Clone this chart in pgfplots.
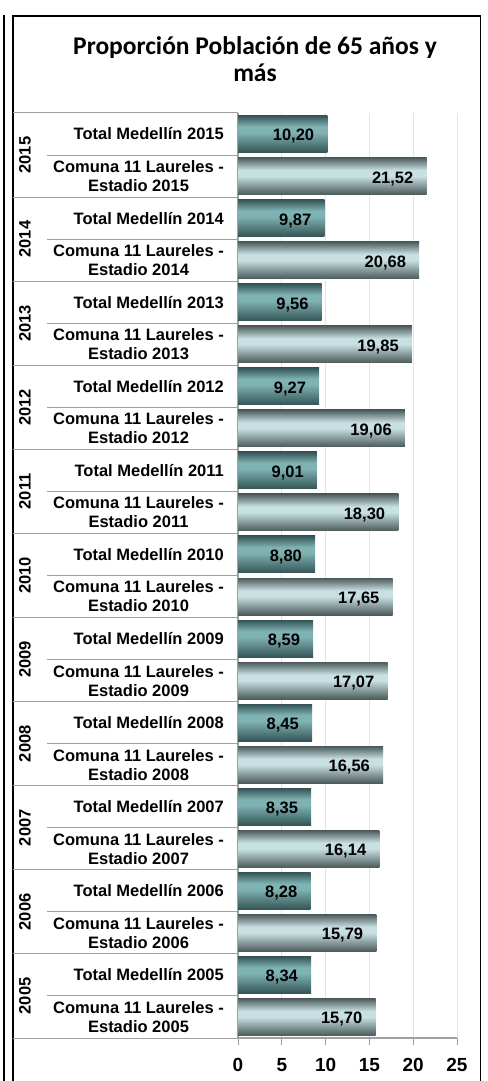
\documentclass[border=0pt]{standalone}
\usepackage{pgfplots}
\usepackage{pgfplotstable}
\pgfplotsset{compat=1.18}
\usepackage{fontspec}
\setmainfont{Liberation Sans}
\newfontfamily\titlefont{Carlito}

\definecolor{totd}{RGB}{52,84,86}
\definecolor{totl}{RGB}{127,178,178}
\definecolor{comd}{RGB}{76,90,90}
\definecolor{coml}{RGB}{200,224,226}
\definecolor{sepc}{RGB}{160,160,160}
\definecolor{gridc}{RGB}{221,230,234}

% bar shadings, path box maps to 25bp..75bp
\pgfdeclareverticalshading{totshade}{100bp}{color(0bp)=(totd); color(25bp)=(totd); color(52bp)=(totl); color(60bp)=(totl); color(75bp)=(totd); color(100bp)=(totd)}
\pgfdeclareverticalshading{comshade}{100bp}{color(0bp)=(comd); color(25bp)=(comd); color(50bp)=(coml); color(58bp)=(coml); color(75bp)=(comd); color(100bp)=(comd)}

\pgfplotstableread{
year tot com
2005 8.34 15.70
2006 8.28 15.79
2007 8.35 16.14
2008 8.45 16.56
2009 8.59 17.07
2010 8.80 17.65
2011 9.01 18.30
2012 9.27 19.06
2013 9.56 19.85
2014 9.87 20.68
2015 10.20 21.52
}\datos

\begin{document}
\begin{tikzpicture}[x=1pt,y=1pt]
% marco
\draw[line width=1.5pt] (4,-5) -- (4,1066);
\draw[line width=1.5pt] (13,-5) |- (480.5,1065) -- (480.5,-5);
% titulo
\node[font=\titlefont\bfseries\fontsize{25.5}{28}\selectfont, anchor=base] at (255,1026) {Proporción Población de 65 años y};
\node[font=\titlefont\bfseries\fontsize{25.5}{28}\selectfont, anchor=base] at (255,999) {más};

\begin{axis}[
    at={(238pt,43pt)}, anchor=south west,
    scale only axis, width=219pt, height=925pt,
    xbar, bar width=0.88, bar shift=0pt,
    xmin=0, xmax=25, ymin=-0.5, ymax=21.5,
    axis x line*=bottom, axis y line*=left,
    axis line style={-, draw=sepc, line width=1.2pt},
    xtick={0,5,...,25},
    xmajorgrids, grid style={gridc, line width=0.8pt},
    tick align=outside, major tick length=7pt,
    xtick style={draw=sepc, line width=1pt},
    ytick style={draw=none},
    /pgf/number format/assume math mode=true,
    xticklabel style={font=\bfseries\fontsize{19}{19}\selectfont, inner sep=0pt, yshift=-13pt},
    ytick={0,...,21},
    yticklabels={
      {Comuna 11 Laureles -\\Estadio 2005}, Total Medellín 2005,
      {Comuna 11 Laureles -\\Estadio 2006}, Total Medellín 2006,
      {Comuna 11 Laureles -\\Estadio 2007}, Total Medellín 2007,
      {Comuna 11 Laureles -\\Estadio 2008}, Total Medellín 2008,
      {Comuna 11 Laureles -\\Estadio 2009}, Total Medellín 2009,
      {Comuna 11 Laureles -\\Estadio 2010}, Total Medellín 2010,
      {Comuna 11 Laureles -\\Estadio 2011}, Total Medellín 2011,
      {Comuna 11 Laureles -\\Estadio 2012}, Total Medellín 2012,
      {Comuna 11 Laureles -\\Estadio 2013}, Total Medellín 2013,
      {Comuna 11 Laureles -\\Estadio 2014}, Total Medellín 2014,
      {Comuna 11 Laureles -\\Estadio 2015}, Total Medellín 2015},
    yticklabel style={font=\bfseries\fontsize{16.5}{19}\selectfont, align=center, inner sep=0pt, xshift=-7pt},
    point meta=x,
    nodes near coords={\pgfmathprintnumber[fixed,fixed zerofill,precision=2,use comma]{\pgfplotspointmeta}},
    every node near coord/.append style={anchor=east, xshift=-13pt, yshift=-2.5pt, inner sep=0pt, text=black,
      font=\bfseries\fontsize{16.5}{19}\selectfont},
    clip=false,
]
% una barra por plot para que el sombreado sea por barra
\pgfplotsinvokeforeach{1,3,...,21}{
  \addplot[draw=none, shading=totshade, restrict y to domain=#1:#1]
    table[x=tot, y expr={2*(\thisrow{year}-2005)+1}] {\datos};
}
\pgfplotsinvokeforeach{0,2,...,20}{
  \addplot[draw=none, shading=comshade, restrict y to domain=#1:#1]
    table[x=com, y expr={2*(\thisrow{year}-2005)}] {\datos};
}

% lineas de categorias y años
\pgfplotsinvokeforeach{0,...,10}{
  \draw[sepc, line width=1pt] ([xshift=-225pt]axis cs:0,{2*#1-0.5}) -- (axis cs:0,{2*#1-0.5});
  \draw[sepc, line width=1pt] ([xshift=-191pt]axis cs:0,{2*#1+0.5}) -- (axis cs:0,{2*#1+0.5});
  \node[rotate=90, font=\bfseries\fontsize{16.5}{19}\selectfont] at ([xshift=-213pt]axis cs:0,{2*#1+0.5}) {\the\numexpr2005+#1\relax};
}
\draw[sepc, line width=1pt] ([xshift=-225pt]axis cs:0,21.5) -- (axis cs:0,21.5);
\end{axis}
\pgfresetboundingbox
\useasboundingbox (0,0) rectangle (487,1081);
\end{tikzpicture}
\end{document}
